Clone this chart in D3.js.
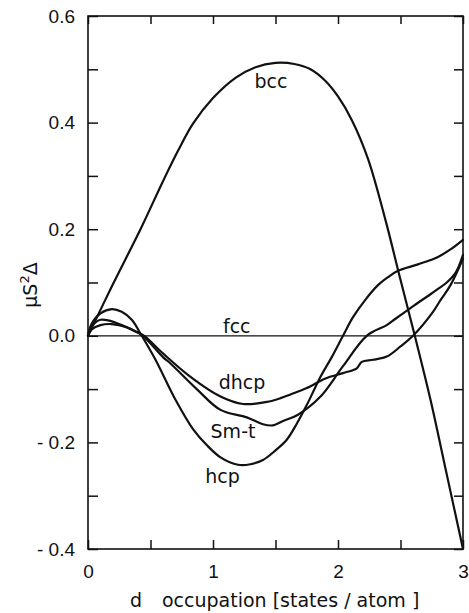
<!DOCTYPE html>
<meta charset="utf-8">
<style>
  body { margin: 0; background: #fff; }
  svg { font-family: "DejaVu Sans", sans-serif; }
  .curve { fill: none; stroke: #111; stroke-width: 2.2; stroke-linejoin: round; stroke-linecap: round; }
  .zero { fill: none; stroke: #111; stroke-width: 1.3; }
  .frame { fill: none; stroke: #111; stroke-width: 1.6; }
  .axis .domain { display: none; }
  .axis .tick line { stroke: #111; stroke-width: 1.5; }
  .axis text { font-size: 19px; fill: #111; }
  .lbl { font-size: 19px; fill: #111; }
</style>
<svg width="469" height="613"></svg>
<script src="https://cdnjs.cloudflare.com/ajax/libs/d3/7.8.5/d3.min.js"></script>
<script>
  // tick values and labels
  var xTicks = [0, 0.5, 1, 1.5, 2, 2.5, 3];
  var xTickLabels = ["0", "", "1", "", "2", "", "3"];
  var yTicks = [-0.4, -0.3, -0.2, -0.1, 0, 0.1, 0.2, 0.3, 0.4, 0.5, 0.6];
  var yTickLabels = ["- 0.4", "", "- 0.2", "", "0.0", "", "0.2", "", "0.4", "", "0.6"];

  // curves: [d occupation, muS^2 Delta]
  var bcc = [[0, 0], [0.2, 0.097], [0.42, 0.2], [0.6, 0.29], [0.72, 0.347], [0.84, 0.398], [1.0, 0.446],
    [1.18, 0.484], [1.34, 0.504], [1.5, 0.512], [1.65, 0.51], [1.78, 0.5], [1.9, 0.478], [2.0, 0.449],
    [2.11, 0.405], [2.24, 0.332], [2.38, 0.217], [2.5, 0.105], [2.62, -0.005], [2.74, -0.12], [2.87, -0.26], [3, -0.4]];
  var fcc = [[0, 0], [3, 0]];
  var hcp = [[0, 0], [0.03, 0.023], [0.1, 0.042], [0.19, 0.05], [0.27, 0.045], [0.35, 0.03], [0.43, 0],
    [0.54, -0.045], [0.7, -0.12], [0.84, -0.175], [0.95, -0.205], [1.06, -0.228], [1.2, -0.242], [1.3, -0.241],
    [1.4, -0.233], [1.5, -0.215], [1.59, -0.195], [1.67, -0.165], [1.75, -0.13], [1.86, -0.077], [1.95, -0.04],
    [2.04, 0], [2.12, 0.035], [2.22, 0.068], [2.32, 0.095], [2.4, 0.11], [2.48, 0.122], [2.64, 0.134],
    [2.8, 0.148], [2.9, 0.162], [3, 0.18]];
  var smt = [[0, 0], [0.03, 0.018], [0.1, 0.03], [0.16, 0.029], [0.27, 0.02], [0.38, 0.008], [0.44, 0],
    [0.6, -0.04], [0.66, -0.052], [0.87, -0.1], [1.06, -0.139], [1.27, -0.153], [1.4, -0.166], [1.48, -0.168],
    [1.56, -0.16], [1.68, -0.148], [1.86, -0.114], [2.04, -0.057], [2.23, 0], [2.39, 0.02], [2.46, 0.032],
    [2.58, 0.052], [2.64, 0.062], [2.74, 0.078], [2.8, 0.088], [2.87, 0.1], [2.94, 0.118], [3, 0.152]];
  var dhcp = [[0, 0], [0.03, 0.012], [0.1, 0.02], [0.19, 0.022], [0.31, 0.016], [0.4, 0.006], [0.45, 0],
    [0.6, -0.033], [0.82, -0.077], [1.06, -0.114], [1.24, -0.128], [1.43, -0.124], [1.54, -0.117], [1.62, -0.11],
    [1.75, -0.098], [1.9, -0.08], [2.04, -0.07], [2.15, -0.061], [2.19, -0.049], [2.28, -0.045], [2.39, -0.039],
    [2.5, -0.02], [2.6, 0], [2.76, 0.045], [2.82, 0.067], [2.9, 0.095], [3, 0.145]];

  var svg = d3.select("svg");
  var margin = {top: 16, right: 6, bottom: 64, left: 88};
  var width = +svg.attr("width") - margin.left - margin.right;
  var height = +svg.attr("height") - margin.top - margin.bottom;
  var g = svg.append("g").attr("transform", "translate(" + margin.left + "," + margin.top + ")");

  var x = d3.scaleLinear().domain([0, 3]).range([0, width]);
  var y = d3.scaleLinear().domain([-0.4, 0.6]).range([height, 0]);

  // axes with inward ticks on all four sides
  g.append("g")
    .attr("class", "axis")
    .call(d3.axisLeft(y).tickValues(yTicks).tickSize(-10).tickPadding(13)
      .tickFormat(function(d, i) { return yTickLabels[i]; }));
  g.append("g")
    .attr("class", "axis")
    .attr("transform", "translate(" + width + ",0)")
    .call(d3.axisRight(y).tickValues(yTicks).tickSize(-9).tickFormat(""));
  g.append("g")
    .attr("class", "axis")
    .attr("transform", "translate(0," + height + ")")
    .call(d3.axisBottom(x).tickValues(xTicks).tickSize(-9).tickPadding(16)
      .tickFormat(function(d, i) { return xTickLabels[i]; }));
  g.append("g")
    .attr("class", "axis")
    .call(d3.axisTop(x).tickValues(xTicks).tickSize(-8).tickFormat(""));

  g.append("rect")
    .attr("class", "frame")
    .attr("width", width)
    .attr("height", height);

  var line = d3.line()
    .curve(d3.curveCatmullRom.alpha(0.5))
    .x(function(d) { return x(d[0]); })
    .y(function(d) { return y(d[1]); });

  g.append("path").datum(fcc).attr("class", "zero").attr("d", line);
  [bcc, hcp, smt, dhcp].forEach(function(s) {
    g.append("path").datum(s).attr("class", "curve").attr("d", line);
  });

  // curve labels
  var labels = [
    {text: "bcc", at: [1.464, 0.465]},
    {text: "fcc", at: [1.19, 0.005]},
    {text: "dhcp", at: [1.232, -0.1]},
    {text: "Sm-t", at: [1.16, -0.192]},
    {text: "hcp", at: [1.076, -0.276]}
  ];
  g.selectAll(".lbl")
    .data(labels)
    .enter().append("text")
    .attr("class", "lbl")
    .attr("text-anchor", "middle")
    .attr("x", function(d) { return x(d.at[0]); })
    .attr("y", function(d) { return y(d.at[1]); })
    .text(function(d) { return d.text; });

  // axis titles
  svg.append("text")
    .attr("class", "lbl")
    .attr("x", 130)
    .attr("y", 607)
    .text("d");
  svg.append("text")
    .attr("class", "lbl")
    .attr("x", 162)
    .attr("y", 607)
    .text("occupation [states / atom ]");

  var yt = svg.append("text")
    .attr("class", "lbl")
    .attr("text-anchor", "middle")
    .attr("transform", "translate(37,285) rotate(-90)");
  yt.append("tspan").text("\u03bcS");
  yt.append("tspan").attr("dy", -8).attr("font-size", 13).text("2");
  yt.append("tspan").attr("dy", 8).text("\u0394");
</script>
